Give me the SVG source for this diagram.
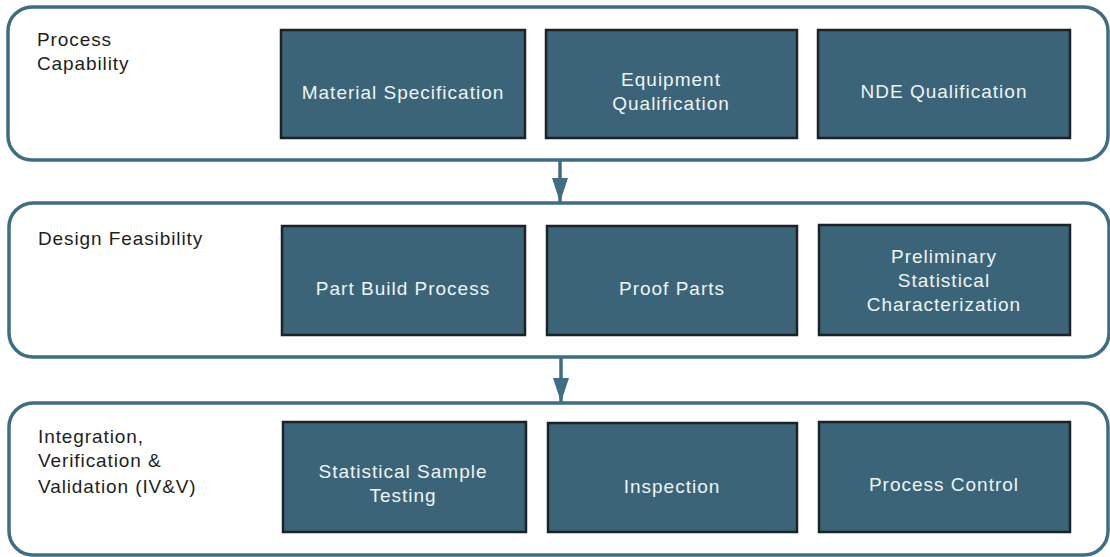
<svg xmlns="http://www.w3.org/2000/svg" width="1110" height="557" viewBox="0 0 1110 557">
  <style>
    .stage { fill: #ffffff; stroke: #3e6d84; stroke-width: 3.5; }
    .box { fill: #3c6479; stroke: #1b2327; stroke-width: 2.5; }
    .stage-label { font-family: "Liberation Sans", Arial, sans-serif; font-size: 19px; letter-spacing: 0.9px; fill: #1e1e1e; }
    .box-label { font-family: "Liberation Sans", Arial, sans-serif; font-size: 19px; letter-spacing: 1px; fill: #eef4f4; text-anchor: middle; }
    .link { stroke: #3e6d84; stroke-width: 3.5; fill: none; }
  </style>
  <defs>
    <marker id="arrowhead" markerUnits="userSpaceOnUse" markerWidth="26" markerHeight="18" refX="24" refY="8" orient="auto">
      <path d="M0,0 L24,8 L0,16 Z" fill="#3e6d84"/>
    </marker>
  </defs>

  <rect width="1110" height="557" fill="#ffffff"/>

  <!-- Stage 1: Process Capability -->
  <g id="stage-process-capability">
    <rect class="stage" x="8" y="7" width="1100" height="153" rx="24" ry="24"/>
    <text class="stage-label" x="37" y="46">Process</text>
    <text class="stage-label" x="37" y="70">Capability</text>
  </g>

  <!-- Stage 2: Design Feasibility -->
  <g id="stage-design-feasibility">
    <rect class="stage" x="9" y="203" width="1100" height="154" rx="24" ry="24"/>
    <text class="stage-label" x="38" y="245">Design Feasibility</text>
  </g>

  <!-- Stage 3: Integration, Verification & Validation -->
  <g id="stage-ivv">
    <rect class="stage" x="9" y="403" width="1099" height="152" rx="24" ry="24"/>
    <text class="stage-label" x="38" y="443">Integration,</text>
    <text class="stage-label" x="38" y="467">Verification &amp;</text>
    <text class="stage-label" x="38" y="493">Validation (IV&amp;V)</text>
  </g>

  <!-- Row 1 activities -->
  <g id="material-specification">
    <rect class="box" x="281" y="30" width="244" height="108"/>
    <text class="box-label" x="403" y="99">Material Specification</text>
  </g>
  <g id="equipment-qualification">
    <rect class="box" x="546" y="30" width="251" height="108"/>
    <text class="box-label" x="671" y="86">Equipment</text>
    <text class="box-label" x="671" y="110">Qualification</text>
  </g>
  <g id="nde-qualification">
    <rect class="box" x="818" y="30" width="252" height="108"/>
    <text class="box-label" x="944" y="98">NDE Qualification</text>
  </g>

  <!-- Row 2 activities -->
  <g id="part-build-process">
    <rect class="box" x="282" y="226" width="243" height="109"/>
    <text class="box-label" x="403" y="295">Part Build Process</text>
  </g>
  <g id="proof-parts">
    <rect class="box" x="547" y="226" width="250" height="109"/>
    <text class="box-label" x="672" y="295">Proof Parts</text>
  </g>
  <g id="preliminary-statistical-characterization">
    <rect class="box" x="819" y="225" width="251" height="110"/>
    <text class="box-label" x="944" y="263">Preliminary</text>
    <text class="box-label" x="944" y="287">Statistical</text>
    <text class="box-label" x="944" y="311">Characterization</text>
  </g>

  <!-- Row 3 activities -->
  <g id="statistical-sample-testing">
    <rect class="box" x="283" y="422" width="243" height="110"/>
    <text class="box-label" x="403" y="478">Statistical Sample</text>
    <text class="box-label" x="403" y="502">Testing</text>
  </g>
  <g id="inspection">
    <rect class="box" x="548" y="423" width="249" height="109"/>
    <text class="box-label" x="672" y="493">Inspection</text>
  </g>
  <g id="process-control">
    <rect class="box" x="819" y="422" width="251" height="110"/>
    <text class="box-label" x="944" y="491">Process Control</text>
  </g>

  <!-- Connectors between stages -->
  <g id="connectors">
    <line class="link" x1="560" y1="160" x2="560" y2="202" marker-end="url(#arrowhead)"/>
    <line class="link" x1="561" y1="357" x2="561" y2="402" marker-end="url(#arrowhead)"/>
  </g>
</svg>
